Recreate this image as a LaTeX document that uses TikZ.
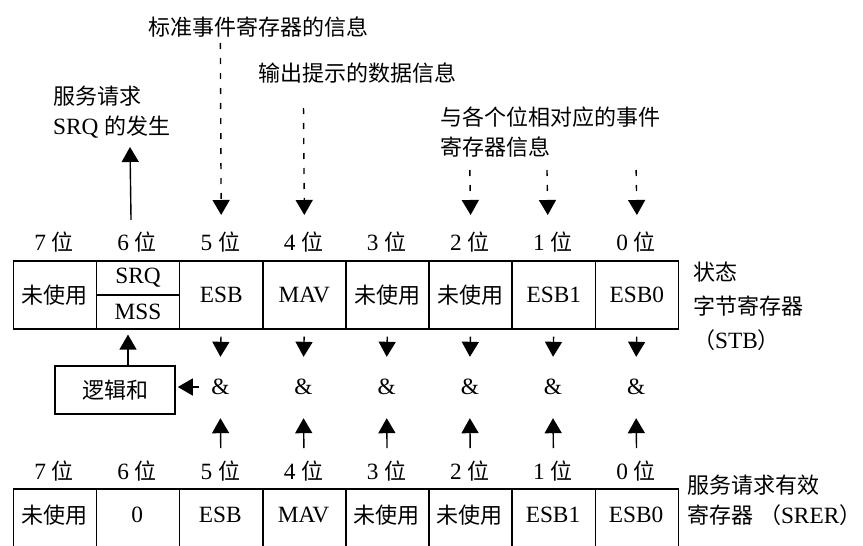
\documentclass[tikz,border=0pt]{standalone}
\usepackage{fontspec}
\setmainfont{Liberation Serif}[Scale=1.06]
\newfontfamily\cjk{Noto Sans CJK SC}
\usetikzlibrary{arrows.meta}
\begin{document}
\begin{tikzpicture}[x=1pt,y=-1pt,
  every node/.style={font=\fontsize{22}{30}\selectfont},
  cell/.style={draw, line width=1.6pt, minimum width=83.15pt, inner sep=0pt, anchor=north west},
  txt/.style={inner sep=0pt},
  amp/.style={inner sep=0pt, minimum height=54pt},
  arr/.style={line width=1.4pt, -{Triangle[width=17pt,length=15pt]}},
  darr/.style={arr, dash pattern=on 6pt off 9pt},
]
\useasboundingbox (0,0) rectangle (863,546);
\clip (0,0) rectangle (863,546);

% top texts
\node[txt, anchor=west] (info5) at (148,27) {\cjk 标准事件寄存器的信息};
\node[txt, anchor=west] (info4) at (258,73) {\cjk 输出提示的数据信息};
\node[txt, anchor=west, align=left] (srqgen) at (53,112) {\cjk 服务请求\\SRQ {\cjk 的发生}};
\node[txt, anchor=west, align=left] (infobits) at (440,132.5) {\cjk 与各个位相对应的事件\\{\cjk 寄存器信息}};

% bit labels
\foreach \b [count=\k from 0] in {7,6,5,4,3,2,1,0}{
  \node[txt] (lt\b) at ({12.5+83.15*(\k+0.5)},242) {\b\ {\cjk 位}};
  \node[txt] (lb\b) at ({12.5+83.15*(\k+0.5)},471) {\b\ {\cjk 位}};
}

% status byte register
\node[cell, minimum height=68pt] (t7) at (12.5,260) {\cjk 未使用};
\node[cell, minimum height=34pt] (srq) at (95.65,260) {SRQ};
\node[cell, minimum height=34pt] (mss) at (95.65,294) {MSS};
\node[cell, minimum height=68pt] (t5) at (178.8,260) {ESB};
\node[cell, minimum height=68pt] (t4) at (261.95,260) {MAV};
\node[cell, minimum height=68pt] (t3) at (345.1,260) {\cjk 未使用};
\node[cell, minimum height=68pt] (t2) at (428.25,260) {\cjk 未使用};
\node[cell, minimum height=68pt] (t1) at (511.4,260) {ESB1};
\node[cell, minimum height=68pt] (t0) at (594.55,260) {ESB0};

\node[txt, anchor=west, align=left, font=\fontsize{22}{34}\selectfont] (stb) at (693,306)
  {\cjk 状态\\{\cjk 字节寄存器}\\{\cjk （}STB{\cjk ）}};

% service request enable register (cut off at the bottom)
\node[cell, minimum height=80pt] (b7) at (12.5,488) {};
\node[cell, minimum height=80pt] (b6) at (95.65,488) {};
\node[cell, minimum height=80pt] (b5) at (178.8,488) {};
\node[cell, minimum height=80pt] (b4) at (261.95,488) {};
\node[cell, minimum height=80pt] (b3) at (345.1,488) {};
\node[cell, minimum height=80pt] (b2) at (428.25,488) {};
\node[cell, minimum height=80pt] (b1) at (511.4,488) {};
\node[cell, minimum height=80pt] (b0) at (594.55,488) {};
\node[txt] (bt7) at (54.08,515) {\cjk 未使用};
\node[txt] (bt6) at (137.23,515) {0};
\node[txt] (bt5) at (220.38,515) {ESB};
\node[txt] (bt4) at (303.53,515) {MAV};
\node[txt] (bt3) at (386.68,515) {\cjk 未使用};
\node[txt] (bt2) at (469.83,515) {\cjk 未使用};
\node[txt] (bt1) at (552.98,515) {ESB1};
\node[txt] (bt0) at (636.13,515) {ESB0};

\node[txt, anchor=west, align=left] (srer) at (687,500)
  {\cjk 服务请求有效\\{\cjk 寄存器} {\cjk （}SRER{\cjk ）}};

% AND gates
\foreach \b/\x in {5/220.38,4/303.53,3/386.68,2/469.83,1/552.98,0/636.13}{
  \node[amp] (a\b) at (\x,387) {\&};
  \draw[arr, shorten <=7pt, shorten >=3pt] (t\b.south) -- (a\b.north);
  \draw[arr, shorten <=40pt, shorten >=4pt] (b\b.north) -- (a\b.south);
}

% logical OR box
\node[draw, line width=1.6pt, minimum width=120pt, minimum height=48pt, inner sep=0pt] (or) at (115,390) {\cjk 逻辑和};
\draw[arr, shorten <=12pt, shorten >=2pt] (a5.west) -- (a5.west -| or.east);
\draw[arr, shorten >=5pt] ([xshift=13pt]or.north) -- ([xshift=13pt]or.north |- mss.south);

% SRQ generation
\coordinate (srqtip) at (130,147);
\draw[arr] ([xshift=-7pt,yshift=40pt]srq.north) -- (srqtip);

% dashed inputs
\coordinate (d5) at (220.38,43);
\coordinate (d4) at (303.53,108);
\coordinate (d2) at (469.83,170);
\coordinate (d1) at (546.98,170);
\coordinate (d0) at (636.13,170);
\draw[darr] (d5) -- ([yshift=45pt]t5.north);
\draw[darr] (d4) -- ([yshift=45pt]t4.north);
\draw[darr] (d2) -- ([yshift=45pt]t2.north);
\draw[darr] (d1) -- ([xshift=-6pt,yshift=45pt]t1.north);
\draw[darr] (d0) -- ([yshift=45pt]t0.north);
\end{tikzpicture}
\end{document}
